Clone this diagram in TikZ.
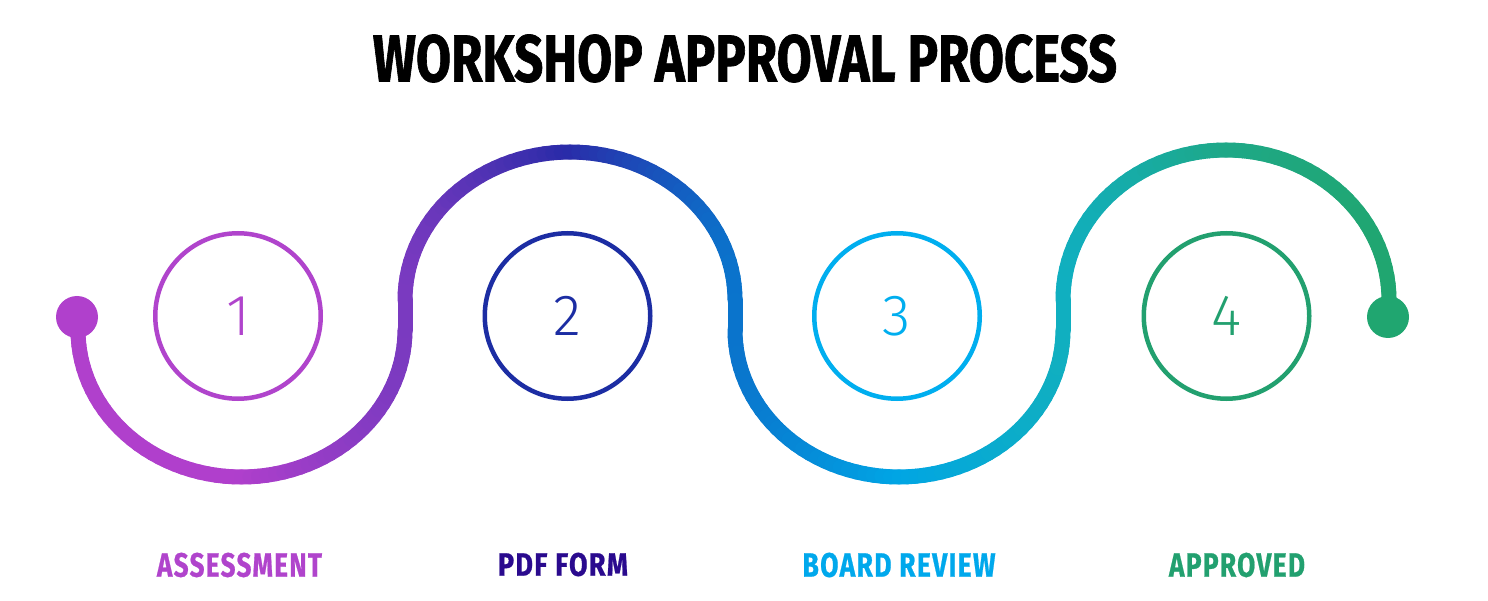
\documentclass[tikz,border=0pt]{standalone}
\usepackage{fontspec}
\setmainfont{Fira Sans}
\newfontfamily\digitfont{Fira Sans}[UprightFont=* Light]
\newfontfamily\headfont{Fira Sans}[UprightFont=* Bold, FakeBold=1.2]
\newfontfamily\labfont{Fira Sans}[UprightFont=* Bold, FakeBold=0.8, LetterSpace=5]
\definecolor{wA}{HTML}{B040CC}
\definecolor{wB}{HTML}{B03FCC}
\definecolor{wC}{HTML}{7A3AC0}
\definecolor{wD}{HTML}{2A2BA8}
\definecolor{wE}{HTML}{0A74CC}
\definecolor{wF}{HTML}{00A5E5}
\definecolor{wG}{HTML}{10AFC0}
\definecolor{wH}{HTML}{1EA888}
\definecolor{wI}{HTML}{20A670}
\definecolor{kA}{HTML}{B044CC}
\definecolor{kB}{HTML}{1C2DA3}
\definecolor{kC}{HTML}{00AEEF}
\definecolor{kD}{HTML}{22A06F}
\definecolor{lB}{HTML}{2A0A8E}
\definecolor{lC}{HTML}{00A8EC}
\tikzset{
  wave/.style={line width=15pt, line cap=round},
  stepcirc/.style={circle, line width=4.5pt, minimum size=165.5pt, inner sep=0pt, font=\digitfont\fontsize{58}{58}\selectfont},
  enddot/.style={circle, minimum size=42pt, inner sep=0pt},
  lab/.style={inner sep=0pt, anchor=center}
}
\begin{document}
\begin{tikzpicture}[x=1pt,y=-1pt]
\useasboundingbox (0,0) rectangle (1488,601);
\fill[white] (0,0) rectangle (1488,601);
% title
\node[lab] (title) at (745,58.5) {\resizebox{744pt}{47pt}{\headfont WORKSHOP APPROVAL PROCESS}};
% wave
\foreach \cx/\cy/\rx/\ry/\ta/\tb/\ca/\cb in {
  241.5/330/163.5/147/180/90/wA/wB, 241.5/330/163.5/147/90/0/wB/wC,
  570/300/165/148/180/270/wC/wD, 570/300/165/148/270/360/wD/wE,
  899/330/164/147/180/90/wE/wF, 899/330/164/147/90/0/wF/wG,
  1226/300/163/150/180/270/wG/wH, 1226/300/163/150/270/360/wH/wI}{
  \pgfmathsetmacro\xs{\cx+\rx*cos(\ta)}
  \pgfmathsetmacro\xe{\cx+\rx*cos(\tb)}
  \foreach \i in {0,...,29}{
    \pgfmathsetmacro\tone{\ta+(\tb-\ta)*\i/30}
    \pgfmathsetmacro\ttwo{\ta+(\tb-\ta)*(\i+1)/30}
    \pgfmathsetmacro\xm{\cx+\rx*cos((\tone+\ttwo)/2)}
    \pgfmathsetmacro\frac{(\xm-\xs)/(\xe-\xs)}
    \pgfmathtruncatemacro\pct{\frac*100}
    \colorlet{segc}{\cb!\pct!\ca}
    \draw[wave, segc] ({\cx+\rx*cos(\tone)},{\cy+\ry*sin(\tone)}) -- ({\cx+\rx*cos(\ttwo)},{\cy+\ry*sin(\ttwo)});
  }
}
\draw[wave, wA] (78,317) -- (78,330);
\draw[wave, wC] (405,330) -- (405,300);
\draw[wave, wE] (735,300) -- (735,330);
\draw[wave, wG] (1063,330) -- (1063,300);
\draw[wave, wI] (1389,300) -- (1389,317);
\node[enddot, fill=wA] (startdot) at (77,317) {};
\node[enddot, fill=wI] (finishdot) at (1388,317) {};
% step circles
\node[stepcirc, draw=kA, text=kA] (s1) at (238,316) {1};
\node[stepcirc, draw=kB, text=kB] (s2) at (567.5,316) {2};
\node[stepcirc, draw=kC, text=kC] (s3) at (897,316) {3};
\node[stepcirc, draw=kD, text=kD] (s4) at (1226.5,316) {4};
% labels
\node[lab, text=kA] (l1) at (239.5,565) {\resizebox{165pt}{24pt}{\labfont ASSESSMENT}};
\node[lab, text=lB] (l2) at (563,564.5) {\resizebox{130pt}{23pt}{\labfont PDF FORM}};
\node[lab, text=lC] (l3) at (899,565) {\resizebox{193pt}{24pt}{\labfont BOARD REVIEW}};
\node[lab, text=kD] (l4) at (1237,565) {\resizebox{136pt}{24pt}{\labfont APPROVED}};
\end{tikzpicture}
\end{document}
